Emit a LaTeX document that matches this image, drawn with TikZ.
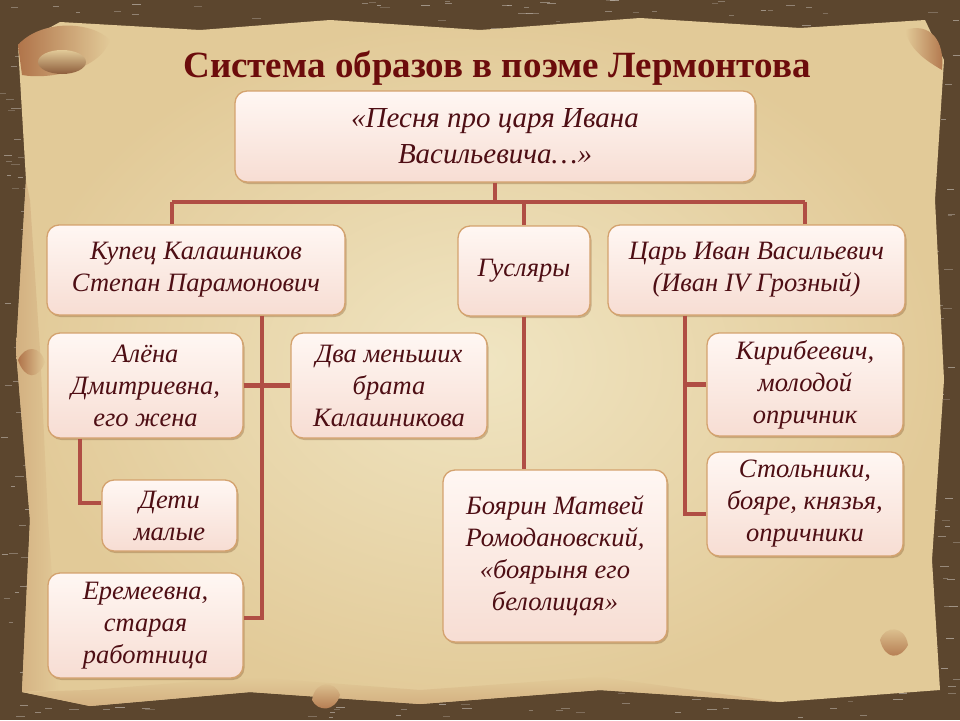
\documentclass[tikz,border=0pt]{standalone}
\usepackage{fontspec}
\setmainfont{Liberation Serif}
\usetikzlibrary{shadows}
\definecolor{frame}{RGB}{92,70,46}
\definecolor{paper}{RGB}{240,229,194}
\definecolor{paperedge}{RGB}{226,202,152}
\definecolor{roll}{RGB}{176,116,74}
\definecolor{linkred}{RGB}{176,78,68}
\definecolor{boxtop}{RGB}{255,247,243}
\definecolor{boxbot}{RGB}{247,221,211}
\definecolor{boxline}{RGB}{212,162,110}
\definecolor{textred}{RGB}{78,14,20}
\definecolor{titlered}{RGB}{108,12,12}

\begin{document}
\begin{tikzpicture}[x=1pt,y=-1pt,
  box/.style={draw=boxline,line width=1.3pt,rounded corners=12pt,
    top color=boxtop,bottom color=boxbot,text=textred,align=center,
    inner sep=0pt,font=\itshape\fontsize{26.5}{32}\selectfont,
    drop shadow={shadow xshift=1.5pt,shadow yshift=-2pt,opacity=0.35,fill=brown!70!black}},
  link/.style={draw=linkred,line width=4.5pt}]
  \useasboundingbox (0,0) rectangle (960,720);
  \fill[frame] (0,0) rectangle (960,720);
  \pgfmathsetseed{7}
  \foreach \k in {1,...,1400}{
    \pgfmathsetmacro\xx{rnd*955}
    \pgfmathsetmacro\yy{rnd*718}
    \pgfmathsetmacro\tt{20+rnd*50}
    \draw[frame!\tt!white,line width=1pt,opacity=0.55] (\xx,\yy) -- ++(4+rnd*6,0);
  }
  \shade[inner color=paper,outer color=paperedge]
    (18,45) -- (60,22) -- (200,30) -- (330,20) -- (480,30) -- (640,18)
    -- (800,28) -- (925,20) -- (944,60) -- (935,200) -- (944,380)
    -- (932,560) -- (940,690) -- (780,702) -- (600,690) -- (420,704)
    -- (250,692) -- (90,706) -- (22,692) -- (30,520) -- (16,350)
    -- (26,180) -- cycle;
  \shade[left color=paperedge!70!roll,right color=paperedge]
    (26,180) -- (16,350) -- (30,520) -- (22,692) -- (60,690) -- (48,520)
    -- (40,350) -- (30,200) -- cycle;
  \shade[top color=paperedge,bottom color=paperedge!70!roll]
    (22,692) -- (90,706) -- (250,692) -- (420,704) -- (600,690) -- (780,702)
    -- (600,677) -- (420,690) -- (250,677) -- (90,690) -- cycle;
  \shade[left color=roll,right color=paperedge]
    (18,45) .. controls (40,20) and (90,20) .. (110,40)
    .. controls (100,70) and (50,80) .. (22,75) -- cycle;
  \shade[top color=paperedge,bottom color=roll!80!black]
    (62,62) ellipse (24 and 12);
  \shade[left color=paperedge,right color=roll]
    (905,30) .. controls (930,22) and (945,40) .. (942,70)
    .. controls (925,60) and (910,50) .. (905,30) -- cycle;
  \shade[left color=roll,right color=paperedge]
    (18,360) .. controls (25,345) and (40,345) .. (45,362)
    .. controls (38,380) and (25,380) .. (18,360) -- cycle;
  \shade[top color=paperedge,bottom color=roll]
    (312,700) .. controls (315,680) and (335,680) .. (340,695)
    .. controls (335,712) and (318,712) .. (312,700) -- cycle;
  \shade[top color=paperedge,bottom color=roll]
    (880,640) .. controls (885,625) and (905,625) .. (908,645)
    .. controls (900,660) and (885,660) .. (880,640) -- cycle;

  \node[text=titlered,font=\bfseries\fontsize{37}{40}\selectfont] (title) at (497,68)
    {Система образов в поэме Лермонтова};
  \node[box,minimum width=520pt,minimum height=91pt,font=\itshape\fontsize{29}{36}\selectfont]
    (song) at (495,136.5) {«Песня про царя Ивана\\Васильевича…»};
  \node[box,minimum width=298pt,minimum height=90pt] (kupets) at (196,270)
    {Купец Калашников\\Степан Парамонович};
  \node[box,minimum width=132pt,minimum height=90pt] (gusl) at (524,271)
    {Гусляры};
  \node[box,minimum width=297pt,minimum height=90pt] (tsar) at (756.5,270)
    {Царь Иван Васильевич\\(Иван IV Грозный)};
  \node[box,minimum width=195pt,minimum height=105pt] (alena) at (145.5,385.5)
    {Алёна\\Дмитриевна,\\его жена};
  \node[box,minimum width=196pt,minimum height=105pt] (bratya) at (389,385.5)
    {Два меньших\\брата\\Калашникова};
  \node[box,minimum width=135pt,minimum height=71pt] (deti) at (169.5,515.5)
    {Дети\\малые};
  \node[box,minimum width=195pt,minimum height=105pt] (eremeevna) at (145.5,625.5)
    {Еремеевна,\\старая\\работница};
  \node[box,minimum width=224pt,minimum height=172pt] (boyarin) at (555,556)
    {Боярин Матвей\\Ромодановский,\\«боярыня его\\белолицая»};
  \node[box,minimum width=196pt,minimum height=103pt] (kirib) at (805,384.5)
    {Кирибеевич,\\молодой\\опричник};
  \node[box,minimum width=196pt,minimum height=104pt] (stolniki) at (805,504)
    {Стольники,\\бояре, князья,\\опричники};

  \coordinate (busL) at (172,202);
  \coordinate (busR) at (805,202);
  \coordinate (kstem) at (262,0);
  \coordinate (astem) at (80,0);
  \coordinate (tstem) at (685,0);
  \draw[link] (busL) -- (busR);
  \draw[link] (song.south) -- (song.south |- busL);
  \draw[link] (busL) -- (busL |- kupets.north);
  \draw[link] (gusl.north |- busL) -- (gusl.north);
  \draw[link] (busR) -- (busR |- tsar.north);
  \draw[link] (kstem |- kupets.south) -- (kstem |- 0,618) -- ([yshift=7.5pt]eremeevna.east);
  \draw[link] (alena.east) -- (bratya.west);
  \draw[link] (astem |- alena.south) -- (astem |- 0,503) -- ([yshift=12.5pt]deti.west);
  \draw[link] (gusl.south) -- (gusl.south |- boyarin.north);
  \draw[link] (tstem |- tsar.south) -- (tstem |- 0,514) -- ([yshift=-10pt]stolniki.west);
  \draw[link] (tstem |- kirib.west) -- (kirib.west);
\end{tikzpicture}
\end{document}
